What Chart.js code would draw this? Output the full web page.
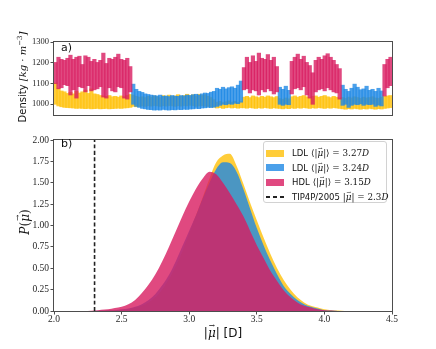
<!DOCTYPE html>
<html>
<head>
<meta charset="utf-8">
<script src="https://cdn.jsdelivr.net/npm/chart.js@4.4.1/dist/chart.umd.min.js"></script>
<style>
  body { margin: 0; background: #fff; width: 436px; height: 349px; position: relative; overflow: hidden; }
  canvas { position: absolute; left: 0; }
  #density { top: 0; }
  #dipole { top: 125px; }
  .tag { position: absolute; left: 61px; font: 11px "DejaVu Sans"; color: #111; }
  .title { position: absolute; white-space: nowrap; color: #111; font: 10px "DejaVu Sans";
    transform: translate(-50%, -50%); }
  .title.rot { transform: translate(-50%, -50%) rotate(-90deg); }
  .m { font-family: "DejaVu Serif"; }
  .vec { position: relative; display: inline-block; font-style: italic; }
  .vec::after { content: "\2192"; position: absolute; left: 0.12em; top: -0.62em;
    font-size: 0.62em; font-style: normal; }
  #legend {
    position: absolute; left: 263px; top: 141px; width: 124px; height: 62px;
    box-sizing: border-box; border: 1px solid #d2d2d2; border-radius: 3px;
    background: rgba(255, 255, 255, 0.85); padding-top: 4px;
  }
  #legend .row { height: 14.6px; display: flex; align-items: center; white-space: nowrap;
    font: 8.5px "DejaVu Sans"; color: #111; }
  #legend .swatch { width: 18px; height: 7px; margin: 0 8px 0 2px; flex: none; }
  #legend .dash { width: 18px; height: 1.6px; margin: 0 8px 0 2px; flex: none;
    background: repeating-linear-gradient(90deg, #222 0 4px, transparent 4px 7px); }
  #legend .m { font-size: 8.8px; margin-left: 3px; }
</style>
</head>
<body>
<canvas id="density" width="436" height="125"></canvas>
<canvas id="dipole" width="436" height="224"></canvas>
<div class="tag" style="top:41px">a)</div>
<div class="tag" style="top:137px">b)</div>
<div class="title rot" style="left:22px; top:77px">Density <span class="m"><i>[kg · m</i><sup style="font-size:7px">−3</sup><i>]</i></span></div>
<div class="title rot m" style="left:25px; top:222px; font-size:12px"><i>P</i>(<span class="vec">μ</span>)</div>
<div class="title" style="left:223px; top:333px; font-size:12px">|<span class="vec m">μ</span>| [D]</div>
<div id="legend"></div>
<script>
// top panel: density trace, one [low, high] band per time bin (3 px wide), null where the state is absent
const hdlBand = [
  [1100,1200],[1075,1225],[1080,1215],[1095,1210],[1090,1220],[1045,1235],[1070,1215],[1030,1225],[1085,1230],[1080,1190],
  [1060,1232],[1090,1225],[1065,1205],[1070,1215],[1075,1200],[1085,1210],[1035,1245],[1030,1195],[1080,1220],[1065,1215],
  [1060,1225],[1085,1240],[1080,1215],[1030,1210],[1025,1220],[1060,1180],
  null,null,null,null,null,null,null,null,null,null,
  null,null,null,null,null,null,null,null,null,null,
  null,null,null,null,null,null,null,null,null,null,
  null,null,null,null,null,null,null,
  [1070,1175],[1075,1225],[1055,1200],[1070,1232],[1065,1205],[1045,1245],[1070,1220],[1060,1215],[1075,1238],[1065,1210],
  [1050,1225],[1060,1180],
  null,null,null,null,
  [1050,1205],[1075,1225],[1080,1240],[1070,1215],[1085,1230],[1045,1200],[1030,1185],[1000,1150],[1060,1210],[1070,1225],
  [1075,1215],[1065,1232],[1080,1242],[1070,1225],[1060,1210],[1055,1190],[1025,1170],
  null,null,null,null,null,null,null,null,null,null,
  null,null,null,null,
  [1040,1190],[1080,1215],[1090,1225]
];

const ldlBlueBand = [
  null,null,null,null,null,null,null,null,null,null,
  null,null,null,null,null,null,null,null,null,null,
  null,null,null,null,null,null,
  [1000,1095],[990,1070],[985,1060],[980,1055],[978,1048],[975,1045],[974,1042],[972,1040],[973,1038],[972,1042],
  [975,1036],[973,1038],[972,1035],[974,1040],[973,1037],[975,1036],[974,1040],[976,1038],[975,1042],[977,1040],
  [978,1044],[980,1046],[979,1042],[982,1048],[983,1052],[985,1050],[984,1056],[986,1060],[990,1075],[995,1070],
  [1000,1080],[998,1072],[1002,1078],[1000,1082],[1005,1075],[1003,1090],[1010,1110],
  null,null,null,null,null,null,null,null,null,null,
  null,null,
  [1000,1080],[995,1070],[1000,1085],[998,1065],
  null,null,null,null,null,null,null,null,null,null,
  null,null,null,null,null,null,null,
  [995,1090],[1000,1070],[985,1060],[995,1075],[1000,1095],[998,1080],[1002,1068],[995,1072],[1000,1085],[998,1065],
  [1000,1070],[990,1060],[996,1075],[992,1062],
  null,null,null
];

const ldlYellowBand = [
  [1000,1100],[992,1075],[988,1062],[985,1058],[984,1050],[983,1055],[982,1048],[980,1060],[981,1052],[980,1058],
  [979,1066],[980,1050],[978,1072],[979,1048],[980,1045],[978,1040],[979,1038],[980,1036],[978,1040],[979,1034],
  [980,1036],[981,1032],[980,1038],[982,1034],[983,1040],[985,1045],
  [990,1042],[988,1036],[990,1032],[992,1034],[990,1030],[993,1036],[991,1032],[994,1038],[992,1034],[990,1030],
  [993,1040],[991,1035],[994,1042],[992,1036],[990,1038],[993,1044],[991,1036],[994,1040],[992,1046],[995,1040],
  [993,1044],[990,1038],[992,1046],[994,1040],[991,1044],[990,1036],[988,1030],[986,1020],
  [982,1008],[984,1012],[980,1006],[983,1010],[985,1014],[982,1008],[984,1012],[981,1006],[983,1010],
  [983,1032],[981,1036],[984,1030],[982,1038],[980,1034],[983,1030],[981,1036],[984,1032],[982,1038],[980,1034],
  [983,1030],[981,1035],
  [980,1025],[978,1022],[981,1028],[979,1024],
  [982,1034],[980,1038],[983,1032],[981,1036],[984,1040],[982,1034],[980,1030],[983,1036],[981,1038],[984,1032],
  [982,1036],[980,1040],[983,1034],[981,1030],[984,1036],[982,1032],[980,1028],
  [978,1030],[976,1026],[979,1032],[977,1028],[980,1034],[978,1030],[976,1026],[979,1032],[977,1028],[980,1030],
  [978,1034],[976,1028],[979,1026],[977,1032],
  [980,1036],[982,1038],[984,1040]
];

const densityTicks = [1000, 1100, 1200, 1300];

// bottom panel: distributions of the molecular dipole |mu| (D)
const muGrid = [
  2.20, 2.25, 2.30, 2.35, 2.40, 2.45, 2.50, 2.55, 2.60, 2.65,
  2.70, 2.75, 2.80, 2.85, 2.90, 2.95, 3.00, 3.05, 3.10, 3.15,
  3.20, 3.25, 3.30, 3.35, 3.40, 3.45, 3.50, 3.55, 3.60, 3.65,
  3.70, 3.75, 3.80, 3.85, 3.90, 3.95, 4.00, 4.05, 4.10, 4.15, 4.20
];
const pYellow = [
  0, 0, 0, 0, 0.005, 0.01, 0.015, 0.02, 0.04, 0.06,
  0.10, 0.16, 0.25, 0.37, 0.52, 0.70, 0.91, 1.12, 1.33, 1.55,
  1.74, 1.82, 1.84, 1.70, 1.49, 1.27, 1.06, 0.86, 0.67, 0.50,
  0.36, 0.25, 0.16, 0.10, 0.06, 0.04, 0.02, 0.01, 0.005, 0, 0
];
const pBlue = [
  0, 0, 0, 0.005, 0.01, 0.01, 0.02, 0.03, 0.05, 0.08,
  0.13, 0.20, 0.30, 0.42, 0.58, 0.76, 0.94, 1.12, 1.32, 1.50,
  1.66, 1.74, 1.73, 1.63, 1.43, 1.20, 0.97, 0.77, 0.59, 0.43,
  0.29, 0.20, 0.13, 0.08, 0.05, 0.03, 0.01, 0.005, 0, 0, 0
];
const pHdl = [
  0, 0, 0.005, 0.015, 0.02, 0.035, 0.05, 0.08, 0.13, 0.21,
  0.31, 0.43, 0.58, 0.75, 0.93, 1.11, 1.28, 1.43, 1.55, 1.63,
  1.60, 1.50, 1.38, 1.25, 1.11, 0.94, 0.77, 0.62, 0.47, 0.35,
  0.24, 0.16, 0.10, 0.06, 0.04, 0.02, 0.01, 0.005, 0, 0, 0
];
const tip4pDipole = 2.3;

const phaseNames = ["LDL", "LDL", "HDL"];
const phaseMeans = [3.27, 3.24, 3.15];
const muTicksY = [0, 0.25, 0.5, 0.75, 1, 1.25, 1.5, 1.75, 2];
const muTicksX = [2, 2.5, 3, 3.5, 4, 4.5];

const YELLOW = "rgba(255, 193, 7, 0.8)";
const BLUE = "rgba(30, 136, 229, 0.8)";
const PINK = "rgba(216, 27, 96, 0.8)";
const phaseColors = [YELLOW, BLUE, PINK];
const AXIS = "#4d4d4d";

const frame = {
  id: "frame",
  afterDraw(chart) {
    const { ctx, chartArea: a } = chart;
    ctx.save();
    ctx.strokeStyle = AXIS;
    ctx.lineWidth = 1;
    ctx.strokeRect(a.left - 0.5, a.top - 0.5, a.width + 1, a.height + 1);
    ctx.restore();
  }
};

const tickFont = { family: "Liberation Serif", size: 9.5 };
const gridTicks = { display: true, drawOnChartArea: false, drawTicks: true, tickLength: 3.5, color: AXIS };
const band = (label, data, color, order) => ({
  label, data, backgroundColor: color, order,
  grouped: false, barPercentage: 1, categoryPercentage: 1, borderWidth: 0, inflateAmount: 0.6
});

new Chart(document.getElementById("density"), {
  type: "bar",
  data: {
    labels: ldlYellowBand.map((_, i) => i),
    datasets: [
      band("HDL", hdlBand, PINK, 1),
      band("LDL 3.24", ldlBlueBand, BLUE, 2),
      band("LDL 3.27", ldlYellowBand, YELLOW, 3)
    ]
  },
  options: {
    responsive: false,
    animation: false,
    layout: { padding: { top: 42, right: 44, bottom: 10, left: 0 } },
    plugins: { legend: { display: false }, tooltip: { enabled: false } },
    scales: {
      x: { display: false },
      y: {
        min: 947, max: 1300,
        afterFit(s) { s.width = 54; },
        afterBuildTicks(s) { s.ticks = densityTicks.map(v => ({ value: v })); },
        ticks: { font: { family: "Liberation Serif", size: 8.5 }, color: "#262626", padding: 1.5,
          callback: v => String(v) },
        grid: gridTicks,
        border: { display: false }
      }
    }
  },
  plugins: [frame]
});

const curve = vals => muGrid.map((x, i) => ({ x: x, y: vals[i] }));

const dipoleChart = new Chart(document.getElementById("dipole"), {
  type: "line",
  data: {
    datasets: [
      { label: phaseNames[0], data: curve(pYellow), backgroundColor: YELLOW, fill: "origin", order: 3 },
      { label: phaseNames[1], data: curve(pBlue), backgroundColor: BLUE, fill: "origin", order: 2 },
      { label: phaseNames[2], data: curve(pHdl), backgroundColor: PINK, fill: "origin", order: 1 },
      { label: "TIP4P/2005", data: [{ x: tip4pDipole, y: 0 }, { x: tip4pDipole, y: 2 }],
        borderColor: "#222", borderWidth: 1.6, borderDash: [4, 2.5], fill: false, order: 0 }
    ]
  },
  options: {
    responsive: false,
    animation: false,
    layout: { padding: { top: 15, right: 44, bottom: 0, left: 0 } },
    elements: {
      point: { radius: 0 },
      line: { borderWidth: 0, borderColor: "rgba(0,0,0,0)", cubicInterpolationMode: "monotone" }
    },
    plugins: { legend: { display: false }, tooltip: { enabled: false } },
    scales: {
      x: {
        type: "linear", min: 2, max: 4.5,
        afterFit(s) { s.height = 38; },
        afterBuildTicks(s) { s.ticks = muTicksX.map(v => ({ value: v })); },
        ticks: { font: tickFont, color: "#262626", padding: -1, callback: v => v.toFixed(1) },
        grid: gridTicks,
        border: { display: false }
      },
      y: {
        min: 0, max: 2,
        afterFit(s) { s.width = 54; },
        afterBuildTicks(s) { s.ticks = muTicksY.map(v => ({ value: v })); },
        ticks: { font: tickFont, color: "#262626", padding: 1.5, callback: v => v.toFixed(2) },
        grid: gridTicks,
        border: { display: false }
      }
    }
  },
  plugins: [frame]
});

// legend box inside panel b
const legend = document.getElementById("legend");
dipoleChart.data.datasets.forEach((ds, i) => {
  const row = document.createElement("div");
  row.className = "row";
  if (i < 3) {
    row.innerHTML = `<span class="swatch" style="background:${phaseColors[i]}"></span>${ds.label}` +
      `<span class="m">⟨|<span class="vec">μ</span>|⟩ = ${phaseMeans[i].toFixed(2)}<i>D</i></span>`;
  } else {
    row.innerHTML = `<span class="dash"></span>${ds.label}` +
      `<span class="m">|<span class="vec">μ</span>| = ${tip4pDipole}<i>D</i></span>`;
  }
  legend.appendChild(row);
});
</script>
</body>
</html>
